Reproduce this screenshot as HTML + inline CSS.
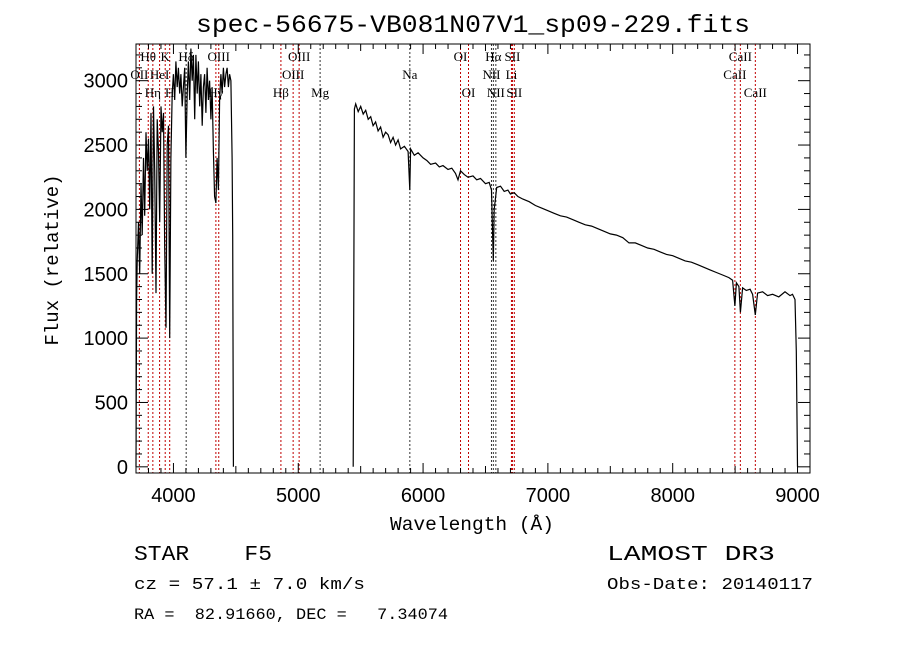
<!DOCTYPE html>
<html><head><meta charset="utf-8"><style>
html,body{margin:0;padding:0;background:#fff;}
svg{display:block;}
.m{font-family:"Liberation Mono","DejaVu Sans Mono",monospace;}
.s{font-family:"Liberation Serif",serif;}
.a{font-family:"Liberation Sans",sans-serif;}
</style></head><body>
<svg id="c" width="900" height="649" viewBox="0 0 900 649" xmlns="http://www.w3.org/2000/svg">
<rect width="900" height="649" fill="#fff"/>
<text class="m" x="196" y="32" font-size="25" textLength="554" lengthAdjust="spacingAndGlyphs">spec-56675-VB081N07V1_sp09-229.fits</text>
<g id="plot"></g>
<text class="m" x="390" y="530" font-size="19" textLength="164" lengthAdjust="spacingAndGlyphs">Wavelength (Å)</text>
<text class="m" x="58" y="260" font-size="19" text-anchor="middle" transform="rotate(-90 58 260)">Flux (relative)</text>
<text class="m" x="134" y="560" font-size="21" textLength="138" lengthAdjust="spacingAndGlyphs" xml:space="preserve">STAR    F5</text>
<text class="m" x="607" y="560" font-size="21" textLength="168" lengthAdjust="spacingAndGlyphs">LAMOST DR3</text>
<text class="m" x="134" y="589" font-size="17" textLength="231" lengthAdjust="spacingAndGlyphs">cz = 57.1 ± 7.0 km/s</text>
<text class="m" x="607" y="589" font-size="17" textLength="206" lengthAdjust="spacingAndGlyphs">Obs-Date: 20140117</text>
<text class="m" x="134" y="619" font-size="16" textLength="314" lengthAdjust="spacingAndGlyphs" xml:space="preserve">RA =  82.91660, DEC =   7.34074</text>
</svg>
<script>
const waves = [
3700,3705,3710,3720,3730,3740,3750,3760,3770,3780,
3790,3800,3810,3820,3830,3840,3850,3860,3870,3880,
3890,3900,3910,3920,3930,3940,3950,3960,3970,3980,
3990,4000,4010,4020,4030,4040,4050,4060,4070,4080,
4090,4100,4110,4120,4130,4140,4150,4160,4170,4180,
4190,4200,4210,4220,4230,4240,4250,4260,4270,4280,
4290,4300,4310,4320,4330,4340,4350,4360,4370,4380,
4390,4400,4410,4420,4430,4440,4450,4460,4470,4475,
4480,5440,5450,5460,5480,5500,5520,5540,5560,5580,
5600,5620,5640,5660,5680,5700,5720,5740,5760,5780,
5800,5820,5850,5880,5894,5900,5930,5960,6000,6030,
6060,6100,6130,6160,6200,6230,6260,6280,6300,6330,
6360,6400,6430,6460,6500,6530,6548,6555,6563,6570,
6590,6620,6650,6680,6700,6730,6760,6800,6850,6900,
6950,7000,7050,7100,7150,7200,7250,7300,7350,7400,
7450,7500,7550,7600,7650,7700,7750,7800,7850,7900,
7950,8000,8050,8100,8150,8200,8250,8300,8350,8400,
8450,8480,8498,8510,8530,8542,8560,8590,8620,8640,
8662,8680,8720,8760,8800,8850,8900,8940,8960,8980,
8990,9000];
const fluxes = [
0,1300,1600,1900,1500,2200,1800,2400,1950,2600,
2300,2550,2000,2750,1500,2800,2300,1350,2700,2450,
1900,2800,2600,2750,1700,1080,2500,2650,1000,2400,
2900,3050,2850,3150,2950,3100,2900,3050,2800,2950,
3100,2400,2900,3150,2850,3250,3000,3200,2700,3200,
2900,3150,2800,3050,2650,2950,3050,2750,3100,2850,
3000,2700,2950,2450,2100,2050,2400,2150,2850,3050,
2900,3100,2950,3050,3100,2950,3050,3000,2400,1800,
0,0,2780,2820,2760,2800,2740,2770,2700,2720,
2650,2680,2610,2640,2560,2600,2580,2520,2560,2500,
2540,2470,2490,2450,2150,2470,2420,2440,2400,2380,
2350,2360,2330,2340,2310,2320,2280,2230,2300,2270,
2250,2260,2230,2240,2200,2210,2150,1900,1600,2000,
2170,2180,2140,2150,2120,2130,2100,2080,2060,2030,
2010,1990,1970,1950,1940,1920,1900,1880,1870,1850,
1830,1810,1800,1780,1740,1740,1720,1700,1690,1670,
1650,1640,1620,1600,1590,1570,1550,1530,1510,1490,
1470,1450,1250,1430,1400,1200,1390,1370,1380,1340,
1180,1350,1360,1330,1340,1320,1360,1330,1340,1300,
900,0];
const lineWaves = [3727,3798,3835,3889,3934,3970,4102,4340,4363,4861,4959,5007,5175,5894,6300,6364,6548,6563,6583,6708,6716,6731,8498,8542,8662];
const lineColors = ["r","r","r","r","r","r","k","r","r","r","r","r","k","k","r","r","k","k","k","r","r","r","r","r","r"];
const lineLabels = [["OII",3727,2],["Hθ",3798,1],["Hη",3835,3],["HeI",3889,2],["K",3934,1],["H",3970,3],["Hδ",4102,1],["Hγ",4340,3],["OIII",4363,1],["Hβ",4861,3],["OIII",4959,2],["OIII",5007,1],["Mg",5175,3],["Na",5894,2],["OI",6300,1],["OI",6364,3],["NII",6548,2],["Hα",6563,1],["NII",6583,3],["Li",6708,2],["SII",6716,1],["SII",6731,3],["CaII",8498,2],["CaII",8542,1],["CaII",8662,3]];
const xTicks = [4000,5000,6000,7000,8000,9000];
const yTicks = [0,500,1000,1500,2000,2500,3000];

const X0=136,X1=810,Y0=44,Y1=473, WMIN=3700, WMAX=9100, FMIN=-48, FMAX=3285;
const xs = w => X0 + (w-WMIN)/(WMAX-WMIN)*(X1-X0);
const ys = f => Y1 - (f-FMIN)/(FMAX-FMIN)*(Y1-Y0);
const NS="http://www.w3.org/2000/svg";
const g=document.getElementById('plot');
function mk(t,a){const e=document.createElementNS(NS,t);for(const k in a)e.setAttribute(k,a[k]);g.appendChild(e);return e;}
lineWaves.forEach((w,i)=>{
  const l=mk('line',{x1:xs(w),x2:xs(w),y1:Y0,y2:Y1,stroke:lineColors[i]==="r"?"#c00000":"#333",'stroke-width':1,'stroke-dasharray':'2,2'});
  
  
});
let d='';
waves.forEach((w,i)=>{
  const gap = i>0 && fluxes[i]===0 && fluxes[i-1]===0;
  d+=(i===0||gap?'M':'L')+xs(w).toFixed(1)+' '+Math.max(Y0,ys(fluxes[i])).toFixed(1);
});
const p=mk('path',{d:d,fill:'none',stroke:'#000','stroke-width':1.2});


const rowY=[0,61,79,97];
lineLabels.forEach(L=>{
  const t=mk('text',{x:xs(L[1]),y:rowY[L[2]],'text-anchor':'middle','font-size':13,class:'s'});
  t.textContent=L[0];
  
  
});
const fr=mk('rect',{x:X0,y:Y0,width:X1-X0,height:Y1-Y0,fill:'none',stroke:'#000','stroke-width':1});


for(let w=3800;w<=9100;w+=100){
  const major=w%1000===0, mid=w%500===0;
  const len=major?10:(mid?7:5);
  mk('line',{x1:xs(w),x2:xs(w),y1:Y1,y2:Y1-len,stroke:'#000'});
  mk('line',{x1:xs(w),x2:xs(w),y1:Y0,y2:Y0+len,stroke:'#000'});
}
xTicks.forEach(w=>{
  const t=mk('text',{x:xs(w),y:502,'text-anchor':'middle','font-size':20,class:'a'});
  t.textContent=w;
  
  
});
for(let f=0;f<=3200;f+=100){
  const major=f%500===0;
  const len=major?12:6;
  mk('line',{x1:X0,x2:X0+len,y1:ys(f),y2:ys(f),stroke:'#000'});
  mk('line',{x1:X1,x2:X1-len,y1:ys(f),y2:ys(f),stroke:'#000'});
}
yTicks.forEach(f=>{
  const t=mk('text',{x:128,y:ys(f)+7,'text-anchor':'end','font-size':20,class:'a'});
  t.textContent=f;
  
  
});
</script>
</body></html>
